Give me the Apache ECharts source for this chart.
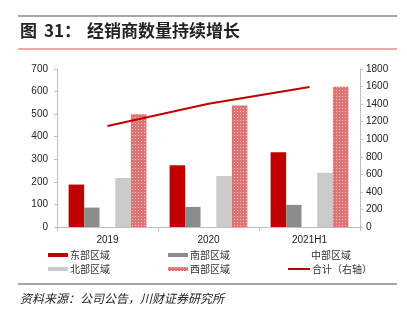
<!DOCTYPE html>
<html><head><meta charset="utf-8">
<script src="https://cdn.jsdelivr.net/npm/echarts@6/dist/echarts.min.js"></script>
<style>html,body{margin:0;padding:0;background:#fff}#c{width:407px;height:321px}</style>
</head><body><div id="c"></div>
<script>
const categories = ['2019', '2020', '2021H1'];
const east = [188, 274, 331];
const south = [86, 89, 98];
const central = [159, 278, 305];
const north = [217, 226, 240];
const west = [500, 538, 621];
const total = [1150, 1405, 1595];

const chart = echarts.init(document.getElementById('c'), null, {renderer: 'canvas'});
const cjk = '"Noto Sans CJK SC", sans-serif';
const axisFont = {fontFamily: 'Liberation Sans, Arial, sans-serif', fontSize: 10, color: '#222', formatter: function (v) { return String(v); }};
function lg(name, left, top, opts) {
  return Object.assign({
    data: [name], left: left, top: top, itemWidth: 20, itemHeight: 4, itemGap: 0,
    icon: 'rect', padding: 0,
    textStyle: {fontFamily: cjk, fontSize: 10, color: '#333', padding: [0, 0, 0, -3]}
  }, opts || {});
}
const option = {
  animation: false,
  grid: {left: 57, right: 47, top: 69, bottom: 94},
  xAxis: {
    type: 'category', data: categories,
    axisLine: {lineStyle: {color: '#bfbfbf'}},
    axisTick: {show: true, length: 4, lineStyle: {color: '#bfbfbf'}},
    axisLabel: {margin: 8, fontFamily: 'Liberation Sans, Arial, sans-serif', fontSize: 10, color: '#222'}
  },
  yAxis: [{
    type: 'value', min: 0, max: 700, interval: 100,
    axisLine: {show: true, lineStyle: {color: '#bfbfbf'}},
    axisTick: {show: true, length: 3, lineStyle: {color: '#bfbfbf'}},
    splitLine: {show: false},
    axisLabel: Object.assign({margin: 9}, axisFont)
  }, {
    type: 'value', min: 0, max: 1800, interval: 200,
    axisLine: {show: true, lineStyle: {color: '#bfbfbf'}},
    axisTick: {show: true, length: 3, lineStyle: {color: '#bfbfbf'}},
    splitLine: {show: false},
    axisLabel: Object.assign({margin: 6}, axisFont)
  }],
  legend: [
    lg('东部区域', 48, 250),
    lg('南部区域', 168, 250),
    lg('中部区域', 289, 250),
    lg('北部区域', 48, 264),
    lg('西部区域', 168, 264),
    lg('合计（右轴）', 288, 264, {itemWidth: 22, itemHeight: 2})
  ],
  series: [
    {name: '东部区域', type: 'bar', data: east, barGap: '0%', barCategoryGap: '23%', itemStyle: {color: '#c00000'}},
    {name: '南部区域', type: 'bar', data: south, itemStyle: {color: '#8c8c8c'}},
    {name: '中部区域', type: 'bar', data: central, itemStyle: {color: '#ffffff'}},
    {name: '北部区域', type: 'bar', data: north, itemStyle: {color: '#cbcbcb'}},
    {name: '西部区域', type: 'bar', data: west, itemStyle: {color: '#de7373',
      decal: {symbol: 'rect', symbolSize: 1, color: 'rgba(255,255,255,0.55)', dashArrayX: [[1, 2]], dashArrayY: [1, 2], rotation: 0}}},
    {name: '合计（右轴）', type: 'line', yAxisIndex: 1, data: total, symbol: 'none',
      lineStyle: {color: '#c00000', width: 2}, itemStyle: {color: '#c00000'}}
  ],
  graphic: [
    {type: 'line', shape: {x1: 18, y1: 16, x2: 397, y2: 16}, style: {stroke: '#8a8a8a', lineWidth: 1.5}},
    {type: 'text', left: 20, top: 22, style: {text: '图', font: 'bold 17px ' + cjk, fill: '#222'}},
    {type: 'text', left: 44, top: 22, style: {text: '31：', font: 'bold 17px ' + cjk, fill: '#222'}},
    {type: 'text', left: 87, top: 22, style: {text: '经销商数量持续增长', font: 'bold 17px ' + cjk, fill: '#222'}},
    {type: 'line', shape: {x1: 18, y1: 49, x2: 397, y2: 49}, style: {stroke: '#e08c8c', lineWidth: 1.5}},
    {type: 'line', shape: {x1: 18, y1: 284, x2: 397, y2: 284}, style: {stroke: '#8a8a8a', lineWidth: 1.5}},
    {type: 'text', left: 20, top: 292, style: {text: '资料来源：公司公告，川财证券研究所', font: 'italic 12px ' + cjk, fill: '#222'}}
  ]
};
chart.setOption(option);
</script></body></html>
